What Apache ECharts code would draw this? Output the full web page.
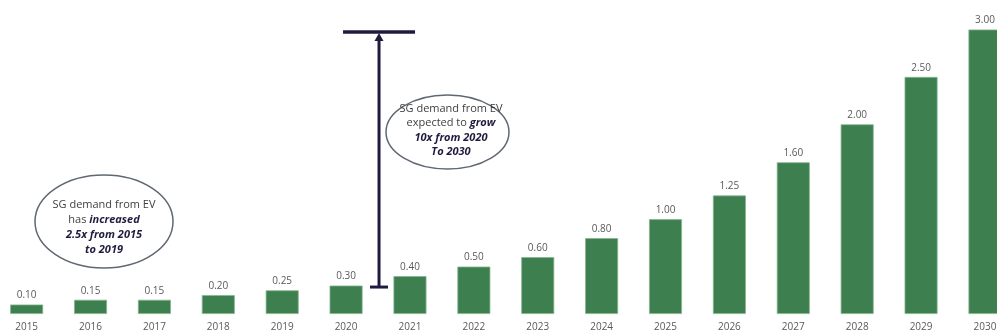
<!DOCTYPE html>
<html>
<head>
<meta charset="utf-8">
<script src="https://cdn.jsdelivr.net/npm/echarts@6/dist/echarts.min.js"></script>
<style>
html,body{margin:0;padding:0;background:#fff;}
#chart{width:997px;height:333px;}
</style>
</head>
<body>
<div id="chart"></div>
<script>
const years = ['2015','2016','2017','2018','2019','2020','2021','2022','2023','2024','2025','2026','2027','2028','2029','2030'];
const demand = [0.10,0.15,0.15,0.20,0.25,0.30,0.40,0.50,0.60,0.80,1.00,1.25,1.60,2.00,2.50,3.00];
const labelText = ['0.10','0.15','0.15','0.20','0.25','0.30','0.40','0.50','0.60','0.80','1.00','1.25','1.60','2.00','2.50','3.00'];
const growthFrom = '2020';
const growthTo = '2030';

const FONT = '"Open Sans", "Noto Sans", sans-serif';
const NAVY = '#1f1b3e';

const chart = echarts.init(document.getElementById('chart'), null, {renderer: 'canvas'});
chart.setOption({
  animation: false,
  backgroundColor: '#fff',
  grid: {left: -5.3, width: 1022.2, top: 29.5, bottom: 19, containLabel: false, outerBoundsMode: 'none'},
  xAxis: {
    type: 'category',
    data: years,
    axisLine: {show: false},
    axisTick: {show: false},
    axisLabel: {color: '#595959', fontSize: 10, fontFamily: FONT, margin: 8}
  },
  yAxis: {
    type: 'value', min: 0, max: 3,
    show: false, splitLine: {show: false}
  },
  series: [{
    type: 'bar',
    data: demand,
    barWidth: 33,
    itemStyle: {color: '#3e7f50', borderColor: '#86b592', borderWidth: 0.8},
    label: {
      show: true, position: 'top', distance: 4,
      color: '#595959', fontSize: 10, fontFamily: FONT,
      formatter: p => labelText[p.dataIndex]
    }
  }]
});

function drawAnnotations() {
  const i0 = years.indexOf(growthFrom);
  const i1 = years.indexOf(growthTo);
  const pA = chart.convertToPixel({gridIndex: 0}, [i0, demand[i0]]);
  const pB = chart.convertToPixel({gridIndex: 0}, [i0 + 1, demand[i0]]);
  const pTop = chart.convertToPixel({gridIndex: 0}, [i1, demand[i1]]);
  const ax = (pA[0] + pB[0]) / 2 + 1;
  const yBottom = pA[1] + 1.5;
  const yTop = pTop[1] + 2.5;

  const textStyleRich = {
    n: {fill: '#404040', font: '11px ' + FONT},
    b: {fill: NAVY, font: 'italic bold 11px ' + FONT}
  };

  chart.setOption({
    graphic: [
      {type: 'line', shape: {x1: ax, y1: yBottom, x2: ax, y2: yTop + 7}, style: {stroke: NAVY, lineWidth: 3}, silent: true},
      {type: 'polygon', shape: {points: [[ax - 4.5, yTop + 9], [ax + 4.5, yTop + 9], [ax, yTop + 1]]}, style: {fill: NAVY}, silent: true},
      {type: 'line', shape: {x1: ax - 36, y1: yTop, x2: ax + 36, y2: yTop}, style: {stroke: NAVY, lineWidth: 3.5}, silent: true},
      {type: 'line', shape: {x1: ax - 9, y1: yBottom, x2: ax + 9, y2: yBottom}, style: {stroke: NAVY, lineWidth: 3}, silent: true},
      {type: 'ellipse', shape: {cx: 104, cy: 221.5, rx: 69, ry: 46.5}, style: {fill: '#fff', stroke: '#5f6873', lineWidth: 1.5}, silent: true},
      {type: 'text', x: 104, y: 227, silent: true,
        style: {
          text: '{n|SG demand from EV}\n{n|has }{b|increased}\n{b|2.5x from 2015}\n{b|to 2019}',
          align: 'center', verticalAlign: 'middle', lineHeight: 15,
          rich: {
            n: Object.assign({lineHeight: 15}, textStyleRich.n),
            b: Object.assign({lineHeight: 15}, textStyleRich.b)
          }
        }},
      {type: 'ellipse', shape: {cx: 447.5, cy: 132, rx: 61.5, ry: 37}, style: {fill: '#fff', stroke: '#5f6873', lineWidth: 1.5}, silent: true},
      {type: 'text', x: 451, y: 130.5, silent: true,
        style: {
          text: '{n|SG demand from EV}\n{n|expected to }{b|grow}\n{b|10x from 2020}\n{b|To 2030}',
          align: 'center', verticalAlign: 'middle', lineHeight: 14.3,
          rich: {
            n: Object.assign({lineHeight: 14.3}, textStyleRich.n),
            b: Object.assign({lineHeight: 14.3}, textStyleRich.b)
          }
        }}
    ]
  });
}
drawAnnotations();
</script>
</body>
</html>
